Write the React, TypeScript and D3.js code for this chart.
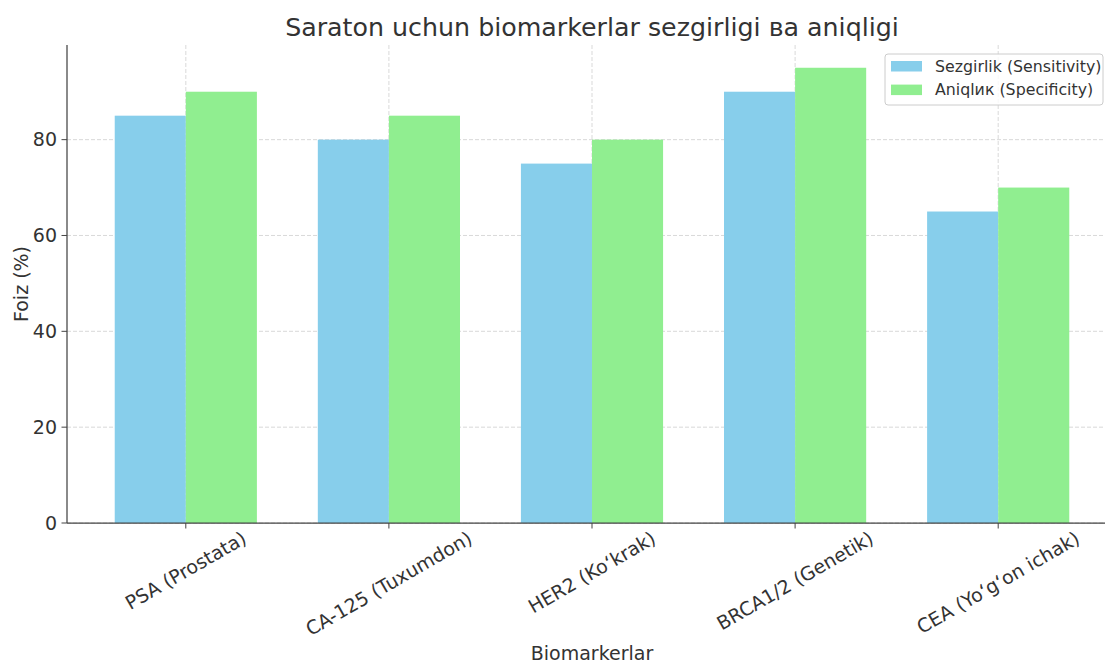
import React from 'react';
import * as d3 from 'd3';

const categories = ['PSA (Prostata)', 'CA-125 (Tuxumdon)', 'HER2 (Ko‘krak)', 'BRCA1/2 (Genetik)', 'CEA (Yo‘g‘on ichak)'];
const sensitivity = [85, 80, 75, 90, 65];
const specificity = [90, 85, 80, 95, 70];
const yTicks = [0, 20, 40, 60, 80];
const seriesNames = ['Sezgirlik (Sensitivity)', 'Aniqlик (Specificity)'];
const colors = ['#87ceeb', '#90ee90'];

const W = 1105;
const H = 663;
const left = 67, right = 1117, top = 45, bottom = 523;
const barW = 0.35;
const font = 'DejaVu Sans, sans-serif';
const textColor = '#333333';
const tickFs = 19;
const labelFs = 19;
const titleFs = 25.3;
const legendFs = 15.8;

// measure label width so rotated labels can be placed like matplotlib (ha=center, va=top)
function textWidth(s: string, fs: number) {
  const ctx = document.createElement('canvas').getContext('2d');
  if (!ctx) return s.length * fs * 0.6;
  ctx.font = `${fs}px "DejaVu Sans"`;
  return ctx.measureText(s).width;
}

export default function App() {
  const x = d3.scaleLinear().domain([-0.585, 4.585]).range([left, right]);
  const y = d3.scaleLinear().domain([0, 99.75]).range([bottom, top]);

  const series = [sensitivity, specificity];
  const labelTop = bottom + 4;
  const rot = Math.PI / 6;
  const lineH = tickFs * 1.164;

  return (
    <div style={{ position: 'absolute', left: 0, top: 0 }}>
      <svg width={W} height={H} style={{ display: 'block', background: '#fff' }} fontFamily={font}>
        {/* grid */}
        <g stroke="#cfcfcf" strokeWidth={0.8} strokeDasharray="4,2">
          {yTicks.map(t => (
            <line key={'gy' + t} x1={left} x2={right} y1={y(t)} y2={y(t)} />
          ))}
          {categories.map((c, i) => (
            <line key={'gx' + i} x1={x(i)} x2={x(i)} y1={top} y2={bottom} />
          ))}
        </g>
        {/* bars */}
        {series.map((vals, s) => (
          <g key={s} fill={colors[s]}>
            {vals.map((v, i) => {
              const x0 = s === 0 ? i - barW : i;
              return (
                <rect key={i} x={x(x0)} y={y(v)} width={x(x0 + barW) - x(x0)} height={y(0) - y(v)} />
              );
            })}
          </g>
        ))}
        {/* spines */}
        <g stroke="#444" strokeWidth={1.25}>
          <line x1={left} x2={left} y1={top} y2={bottom} />
          <line x1={left} x2={right} y1={bottom} y2={bottom} />
        </g>
        {/* y ticks */}
        {yTicks.map(t => (
          <g key={'yt' + t} transform={`translate(${left},${y(t)})`}>
            <line x1={-5.5} x2={0} stroke="#444" strokeWidth={1} />
            <text x={-10} dy="0.35em" textAnchor="end" fontSize={tickFs} fill={textColor}>{t}</text>
          </g>
        ))}
        {/* x ticks */}
        {categories.map((c, i) => {
          const L = textWidth(c, tickFs);
          const boxH = L * Math.sin(rot) + lineH * Math.cos(rot);
          const cy = labelTop - bottom + boxH / 2;
          return (
            <g key={'xt' + i} transform={`translate(${x(i)},${bottom})`}>
              <line y1={0} y2={5.5} stroke="#444" strokeWidth={1} />
              <text
                transform={`translate(0,${cy}) rotate(-30)`}
                textAnchor="middle"
                dy="0.346em"
                fontSize={tickFs}
                fill={textColor}
              >
                {c}
              </text>
            </g>
          );
        })}
        {/* axis labels */}
        <text x={(left + right) / 2} y={660} textAnchor="middle" fontSize={labelFs} fill={textColor}>Biomarkerlar</text>
        <text transform={`translate(28,${(top + bottom) / 2}) rotate(-90)`} textAnchor="middle" fontSize={labelFs} fill={textColor}>Foiz (%)</text>
        {/* title */}
        <text x={(left + right) / 2} y={35.5} textAnchor="middle" fontSize={titleFs} fill={textColor}>
          Saraton uchun biomarkerlar sezgirligi ва aniqligi
        </text>
        {/* legend */}
        <g transform="translate(885,54)">
          <rect x={0} y={0} width={218} height={51} rx={3} fill="#fff" fillOpacity={0.8} stroke="#cccccc" />
          {seriesNames.map((n, i) => (
            <g key={n} transform={`translate(6,${7 + i * 23.6})`}>
              <rect x={0} y={0} width={31} height={10.5} fill={colors[i]} />
              <text x={44} y={5.25} dy="0.35em" fontSize={legendFs} fill={textColor}>{n}</text>
            </g>
          ))}
        </g>
      </svg>
    </div>
  );
}
